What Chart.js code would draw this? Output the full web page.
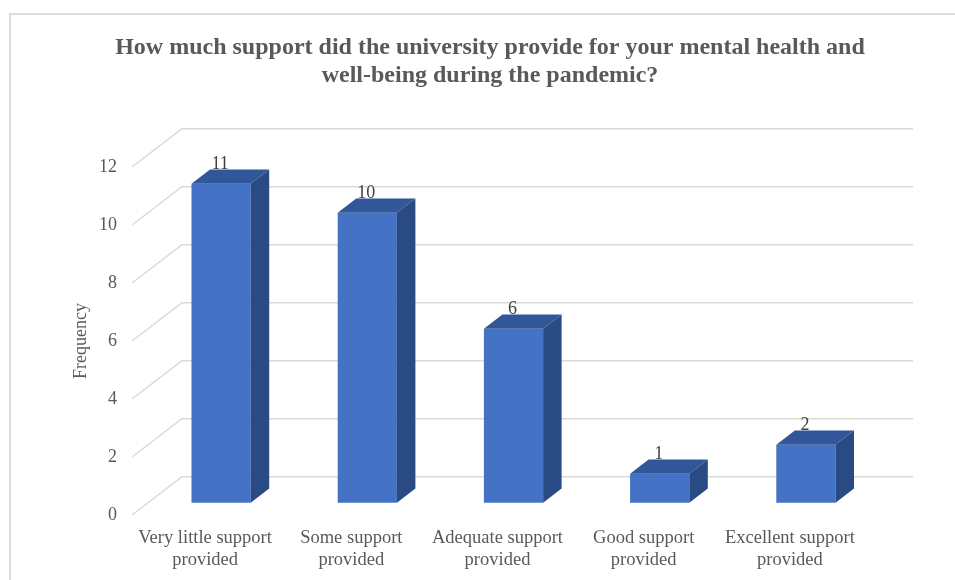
<!DOCTYPE html>
<html>
<head>
<meta charset="utf-8">
<script src="https://cdn.jsdelivr.net/npm/chart.js@4.4.1/dist/chart.umd.min.js"></script>
<style>
  body { margin: 0; background: #fff; overflow: hidden; }
  #wrap { position: relative; width: 955px; height: 580px; overflow: hidden; }
  #frame { position: absolute; left: 9px; top: 13px; width: 1000px; height: 620px; border: 2px solid #dcdcdc; box-sizing: border-box; }
  canvas { position: absolute; left: 0; top: 0; }
</style>
</head>
<body>
<div id="wrap">
  <div id="frame"></div>
  <canvas id="supportChart" width="955" height="580"></canvas>
</div>
<script>
// chart data
const categories = [
  ['Very little support', 'provided'],
  ['Some support', 'provided'],
  ['Adequate support', 'provided'],
  ['Good support', 'provided'],
  ['Excellent support', 'provided']
];
const frequency = [11, 10, 6, 1, 2];
const titleLines = [
  'How much support did the university provide for your mental health and',
  'well-being during the pandemic?'
];

const SERIF = "'Liberation Serif', 'Times New Roman', serif";
const DEPTH_X = 50, DEPTH_Y = 38.3;   // 3D depth of the plot box
const BAR_OFF = 0.32, BAR_DEPTH = 0.37; // bar position / thickness inside the box

// draws the slanted gridlines and the 3D bars
const fake3d = {
  id: 'fake3d',
  afterLayout(chart) {
    // centre the title over the whole canvas, not only the padded box
    const tb = chart.titleBlock;
    if (tb) { tb.left = 25; tb.right = chart.width; tb.width = tb.right - tb.left; }
  },
  beforeDatasetsDraw(chart) {
    const { ctx, chartArea, scales: { y } } = chart;
    ctx.save();
    ctx.strokeStyle = '#d9d9d9';
    ctx.lineWidth = 1.5;
    y.ticks.forEach(t => {
      const py = y.getPixelForValue(t.value);
      ctx.beginPath();
      ctx.moveTo(chartArea.left, py);
      ctx.lineTo(chartArea.left + DEPTH_X, py - DEPTH_Y);
      ctx.lineTo(chartArea.right + DEPTH_X, py - DEPTH_Y);
      ctx.stroke();
    });
    ctx.restore();
  },
  afterDatasetsDraw(chart) {
    const ctx = chart.ctx;
    const meta = chart.getDatasetMeta(0);
    const ox = DEPTH_X * BAR_OFF, oy = DEPTH_Y * BAR_OFF;
    const dx = DEPTH_X * BAR_DEPTH, dy = DEPTH_Y * BAR_DEPTH;
    ctx.save();
    meta.data.forEach((bar, i) => {
      const l = bar.x - bar.width / 2 + ox;
      const r = bar.x + bar.width / 2 + ox;
      const t = bar.y - oy;
      const b = bar.base - oy;
      // front
      ctx.fillStyle = '#4472c4';
      ctx.fillRect(l, t, r - l, b - t);
      // top
      ctx.fillStyle = '#31579a';
      ctx.beginPath();
      ctx.moveTo(l, t); ctx.lineTo(r, t); ctx.lineTo(r + dx, t - dy); ctx.lineTo(l + dx, t - dy);
      ctx.closePath(); ctx.fill();
      // side
      ctx.fillStyle = '#294a82';
      ctx.beginPath();
      ctx.moveTo(r, t); ctx.lineTo(r + dx, t - dy); ctx.lineTo(r + dx, b - dy); ctx.lineTo(r, b);
      ctx.closePath(); ctx.fill();
      // value label
      ctx.fillStyle = '#404040';
      ctx.font = '18px ' + SERIF;
      ctx.textAlign = 'center';
      ctx.textBaseline = 'alphabetic';
      ctx.fillText(String(frequency[i]), bar.x + ox - 1, t - dy - 1);
    });
    ctx.restore();
  }
};

new Chart(document.getElementById('supportChart'), {
  type: 'bar',
  data: {
    labels: categories,
    datasets: [{
      label: 'Frequency',
      data: frequency,
      backgroundColor: 'rgba(0,0,0,0)',
      categoryPercentage: 1,
      barPercentage: 0.405
    }]
  },
  options: {
    responsive: false,
    animation: false,
    layout: { padding: { left: 60, right: 92, top: 0, bottom: 0 } },
    plugins: {
      legend: { display: false },
      tooltip: { enabled: false },
      title: {
        display: true,
        text: titleLines,
        color: '#595959',
        font: { family: SERIF, size: 24, weight: 'bold', lineHeight: 1.167 },
        padding: { top: 34, bottom: 77 }
      }
    },
    scales: {
      x: {
        grid: { display: false, drawTicks: false },
        border: { display: false },
        ticks: {
          color: '#595959',
          font: { family: SERIF, size: 18.5, lineHeight: 1.15 },
          padding: 13,
          maxRotation: 0,
          autoSkip: false
        },
        afterFit(scale) { scale.height = 65; }
      },
      y: {
        min: 0,
        max: 12,
        grid: { display: false, drawTicks: false },
        border: { display: false },
        ticks: {
          stepSize: 2,
          color: '#595959',
          font: { family: SERIF, size: 18 },
          padding: 15
        },
        title: {
          display: true,
          text: 'Frequency',
          color: '#595959',
          font: { family: SERIF, size: 18 },
          padding: { top: 10, bottom: 0 }
        },
        afterFit(scale) { scale.width = 72; }
      }
    }
  },
  plugins: [fake3d]
});
</script>
</body>
</html>
